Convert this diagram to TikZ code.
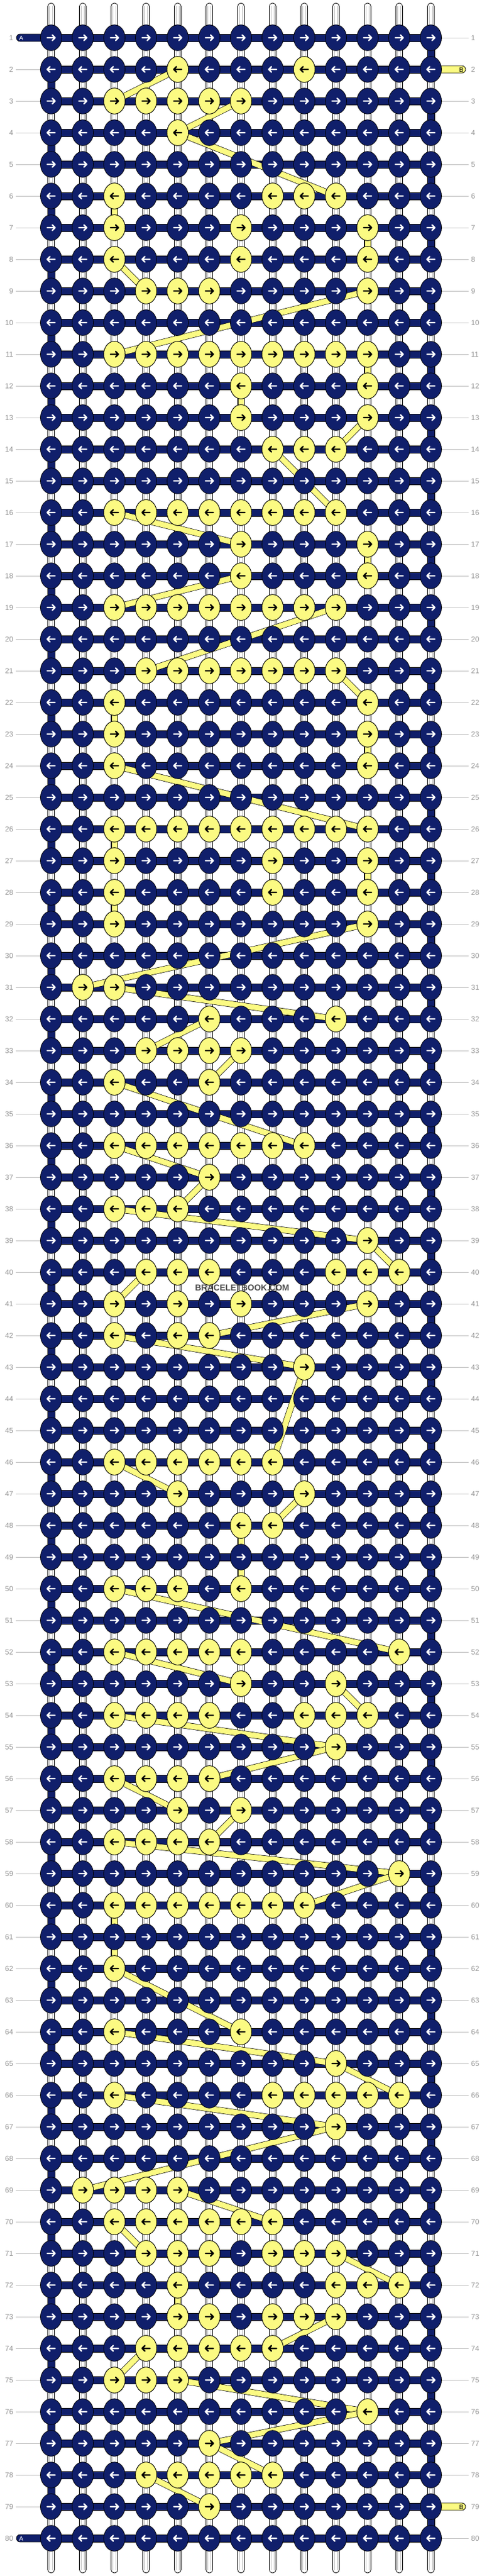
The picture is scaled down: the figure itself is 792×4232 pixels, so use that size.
\documentclass[tikz,border=0pt]{standalone}
\usepackage{fontspec}
\setmainfont{Liberation Sans}
\usetikzlibrary{shapes.geometric}
\definecolor{navy}{RGB}{16,31,107}
\definecolor{byel}{RGB}{251,250,130}
\definecolor{labgray}{RGB}{150,150,150}
\definecolor{lngray}{RGB}{190,190,190}
\tikzset{
  knotA/.style={ellipse, draw=black, line width=0.8pt, fill=navy, minimum width=35pt, minimum height=42.5pt, inner sep=0pt, outer sep=0pt},
  knotB/.style={knotA, fill=byel},
  bar/.style={draw=black, line width=0.8pt, fill=navy},
  ybar/.style={draw=black, line width=0.8pt, fill=byel},
  warp/.style={draw=black, line width=0.8pt, fill=white, rounded corners=5.4pt},
  warpin/.style={draw=lngray, line width=0.6pt},
  yband/.style={draw=black, line width=0.7pt, double=byel, double distance=9pt},
  rowlab/.style={text=labgray, font=\fontsize{12}{12}\selectfont, inner sep=0pt},
  rowline/.style={draw=lngray, line width=0.9pt},
  taillab/.style={font=\fontsize{10.5}{10.5}\selectfont, inner sep=0pt},
  rar/.pic={\draw[line width=2.4pt,line cap=round,line join=round] (-6.5,0)--(6.5,0) (1.9,-4.6)--(6.5,0)--(1.9,4.6);},
  lar/.pic={\draw[line width=2.4pt,line cap=round,line join=round] (6.5,0)--(-6.5,0) (-1.9,-4.6)--(-6.5,0)--(-1.9,4.6);},
}
\begin{document}
\begin{tikzpicture}[x=1pt,y=-1pt]
\useasboundingbox (0,0) rectangle (792,4232);
\fill[white] (0,0) rectangle (792,4232);
% knot centres
\foreach \r in {1,...,80}{\foreach \c in {1,...,13}{\coordinate (p\r-\c) at (52*\c+32,52*\r+10);}}
% warp strings
\foreach \c in {1,...,13}{
  \draw[warp] (52*\c+26.5,5) rectangle (52*\c+37.5,4227);
  \draw[warpin] (52*\c+29.5,10) -- (52*\c+29.5,4222) (52*\c+34.5,10) -- (52*\c+34.5,4222);
}
% row threads
\foreach \r in {1,...,80}{\draw[bar] (84,52*\r+4) rectangle (708,52*\r+16);}
\foreach \r in {1,3,...,79}{\draw[bar] (702,52*\r+10) rectangle (714,52*\r+62);}
\foreach \r in {2,4,...,78}{\draw[bar] (78,52*\r+10) rectangle (90,52*\r+62);}
% tails
\draw[bar, rounded corners=6pt] (27,56) rectangle (90,68);
\draw[bar, rounded corners=6pt] (27,4164) rectangle (90,4176);
\draw[ybar, rounded corners=6pt] (700,108) rectangle (765,120);
\draw[ybar, rounded corners=6pt] (700,4112) rectangle (765,4124);
\node[taillab, text=white] (tA1) at (35,62.5) {A};
\node[taillab, text=white] (tA80) at (35,4170.5) {A};
\node[taillab] (tB2) at (758,114.5) {B};
\node[taillab] (tB79) at (758,4118.5) {B};
% row labels
\foreach \r in {1,...,80}{
  \node[rowlab, anchor=east] (ll\r) at (22,52*\r+10) {\r};
  \node[rowlab, anchor=west] (rl\r) at (774,52*\r+10) {\r};
  \ifnum\r=1\relax\else\ifnum\r=80\relax\else\draw[rowline] (26,52*\r+10) -- (66,52*\r+10);\fi\fi
  \ifnum\r=2\relax\else\ifnum\r=79\relax\else\draw[rowline] (726,52*\r+10) -- (770,52*\r+10);\fi\fi
}
% yellow thread path
\foreach \ra/\ca/\rb/\cb in {2/5/3/3,3/7/4/5,4/5/6/10,6/3/7/3,7/11/8/11,8/3/9/4,9/11/11/3,11/11/12/11,12/7/13/7,13/11/14/10,14/8/16/10,16/3/17/7,17/11/18/11,18/7/19/3,19/10/21/4,21/10/22/11,22/3/23/3,23/11/24/11,24/3/26/11,26/3/27/3,27/11/28/11,28/3/29/3,29/11/31/2,31/3/32/10,32/6/33/4,33/7/34/6,34/3/36/9,36/3/37/6,37/6/38/5,38/3/39/11,39/11/40/12,40/4/41/3,41/11/42/6,42/3/43/9,43/9/46/8,46/3/47/5,47/9/48/8,48/7/50/7,50/3/52/12,52/3/53/7,53/10/54/11,54/3/55/10,55/10/56/6,56/3/57/5,57/7/58/6,58/3/59/12,59/12/60/9,60/3/62/3,62/3/64/7,64/3/65/10,65/10/66/12,66/3/67/10,67/10/69/2,69/5/70/8,70/3/71/4,71/10/72/12,72/5/73/5,73/10/74/8,74/4/75/3,75/5/76/11,76/11/77/6,77/6/78/8,78/4/79/6}{
  \draw[yband] (p\ra-\ca) -- (p\rb-\cb);
}
% knots
\foreach \r in {1,...,80}{\foreach \c in {1,...,13}{
  \node[knotA] (n\r-\c) at (p\r-\c) {};
  \ifodd\r\relax \pic[white] at (p\r-\c) {rar};\else \pic[white] at (p\r-\c) {lar};\fi
}}
\foreach \r/\cs in {2/{5,9},3/{3,4,5,6,7},4/{5},6/{3,8,9,10},7/{3,7,11},8/{3,7,11},9/{4,5,6,11},11/{3,4,5,6,7,8,9,10,11},12/{7,11},13/{7,11},14/{8,9,10},16/{3,4,5,6,7,8,9,10},17/{7,11},18/{7,11},19/{3,4,5,6,7,8,9,10},21/{4,5,6,7,8,9,10},22/{3,11},23/{3,11},24/{3,11},26/{3,4,5,6,7,8,9,10,11},27/{3,8,11},28/{3,8,11},29/{3,11},31/{2,3},32/{6,10},33/{4,5,6,7},34/{3,6},36/{3,4,5,6,7,8,9},37/{6},38/{3,4,5},39/{11},40/{4,5,6,10,11,12},41/{3,5,7,11},42/{3,5,6},43/{9},46/{3,4,5,6,7,8},47/{5,9},48/{7,8},50/{3,4,5,7},52/{3,4,5,6,7,12},53/{7,10},54/{3,4,5,6,9,10,11},55/{10},56/{3,4,5,6},57/{5,7},58/{3,4,5,6},59/{12},60/{3,4,5,6,7,8,9},62/{3},64/{3,7},65/{10},66/{3,8,9,10,11,12},67/{10},69/{2,3,4,5},70/{3,4,5,6,7,8},71/{4,5,6,8,9,10},72/{5,10,11,12},73/{5,6,8,9,10},74/{4,5,6,7,8},75/{3,4,5},76/{11},77/{6},78/{4,5,6,7,8},79/{6}}{
  \foreach \c in \cs {
    \node[knotB] (y\r-\c) at (p\r-\c) {};
    \ifodd\r\relax \pic[black] at (p\r-\c) {rar};\else \pic[black] at (p\r-\c) {lar};\fi
  }
}
% watermark
\node[font=\bfseries\fontsize{14}{14}\selectfont, text=black!70, inner sep=0pt] (wm) at (398,2116) {BRACELETBOOK.COM};
\end{tikzpicture}
\end{document}
